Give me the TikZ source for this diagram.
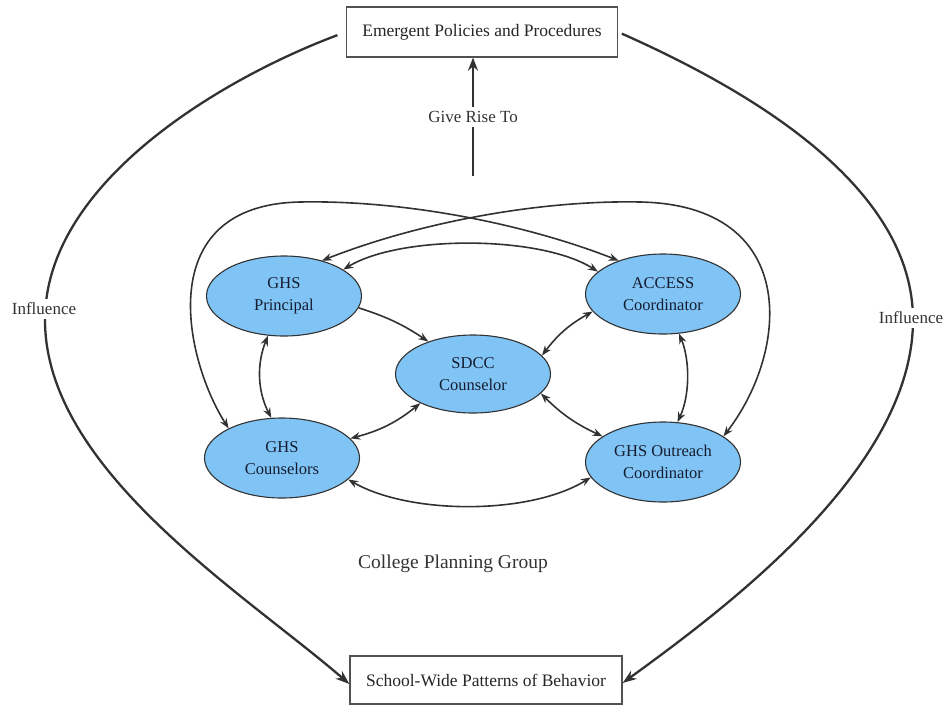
\documentclass[tikz,border=0pt]{standalone}
\usepackage{fontspec}
\setmainfont{Liberation Serif}
\newfontfamily\lserif{Liberation Serif}
\usetikzlibrary{shapes.geometric,arrows.meta,calc}
\definecolor{nodefill}{RGB}{128,196,245}
\definecolor{lineclr}{RGB}{50,50,50}
\definecolor{nodetext}{RGB}{22,28,48}
\begin{document}
\begin{tikzpicture}[x=1pt,y=-1pt,
  actor/.style={ellipse, draw=lineclr, line width=1.1pt, fill=nodefill, minimum width=155pt, minimum height=80pt, inner sep=0pt, align=center, text=nodetext, font=\lserif\fontsize{16.5}{21.5}\selectfont},
  outbox/.style={rectangle, draw=lineclr!85, line width=1.3pt, fill=white, inner sep=0pt, font=\lserif\fontsize{17.5}{20}\selectfont, text=black!85},
  link/.style={draw=lineclr, line width=1.6pt, {Stealth[length=10pt,width=7.5pt]}-{Stealth[length=10pt,width=7.5pt]}},
  onelink/.style={draw=lineclr, line width=1.6pt, -{Stealth[length=10pt,width=7.5pt]}},
  big/.style={draw=lineclr, line width=2.3pt, -{Stealth[length=14pt,width=10pt]}},
  lbl/.style={font=\lserif\fontsize{17}{20}\selectfont, text=black!80, fill=white, inner sep=4pt}
]
\useasboundingbox (0,0) rectangle (947,707);

% boxes
\node[outbox, minimum width=271pt, minimum height=50pt] (epp) at (482,32) {Emergent Policies and Procedures};
\node[outbox, minimum width=272pt, minimum height=48pt] (swp) at (486,680) {School-Wide Patterns of Behavior};

% actors
\node[actor] (P) at (284,296) {GHS\\Principal};
\node[actor] (A) at (663,294) {ACCESS\\Coordinator};
\node[actor, minimum height=78pt] (S) at (473,374) {SDCC\\Counselor};
\node[actor] (C) at (282,458) {GHS\\Counselors};
\node[actor] (O) at (663,462) {GHS Outreach\\Coordinator};

% influence curves
\draw[big, shorten <=9pt] (epp.west) .. controls (228,76) and (45,180) .. (45,320)
  .. controls (45,470) and (244,593) .. ([yshift=-4pt]swp.west);
\draw[big, shorten <=4pt] (epp.east) .. controls (735,84) and (913,180) .. (913,320)
  .. controls (913,470) and (723,610) .. ([yshift=-3pt]swp.east);
\node[lbl] (inf1) at (44,309) {Influence};
\node[lbl] (inf2) at (911,318) {Influence};

% give rise to
\coordinate (g0) at (473,176);
\draw[draw=lineclr, line width=2.6pt, -{Stealth[length=13pt,width=10pt]}] (g0) -- (g0 |- epp.south)
  node[midway, lbl] (grt) {Give Rise To};

\node[font=\lserif\fontsize{19.5}{22}\selectfont, text=black!80] (cpg) at (453,564) {College Planning Group};

% links between actors
\draw[onelink] (P.-9) to[bend left=8] (S.144);
\draw[link] (S.15) to[bend left=12] (A.-166);
\draw[link] (C.16) to[bend right=12] (S.-151);
\draw[link] (S.-16) to[bend right=10] (O.157);
\draw[link] (C.-18) .. controls (410,515) and (530,515) .. (O.-168);
\draw[link] (P.-112) .. controls (257,363) and (257,390) .. (C.105);
\draw[link] (A.-68) .. controls (690,360) and (690,395) .. (O.70);
\draw[link] (P.24) .. controls (400,235) and (540,235) .. (A.161);
\draw[link] (A.143) .. controls (520,222) and (400,200) .. (300,202)
  .. controls (150,205) and (185,360) .. (C.151);
\draw[link] (P.43) .. controls (420,222) and (540,200) .. (640,202)
  .. controls (800,205) and (790,350) .. (O.23);
\end{tikzpicture}
\end{document}
